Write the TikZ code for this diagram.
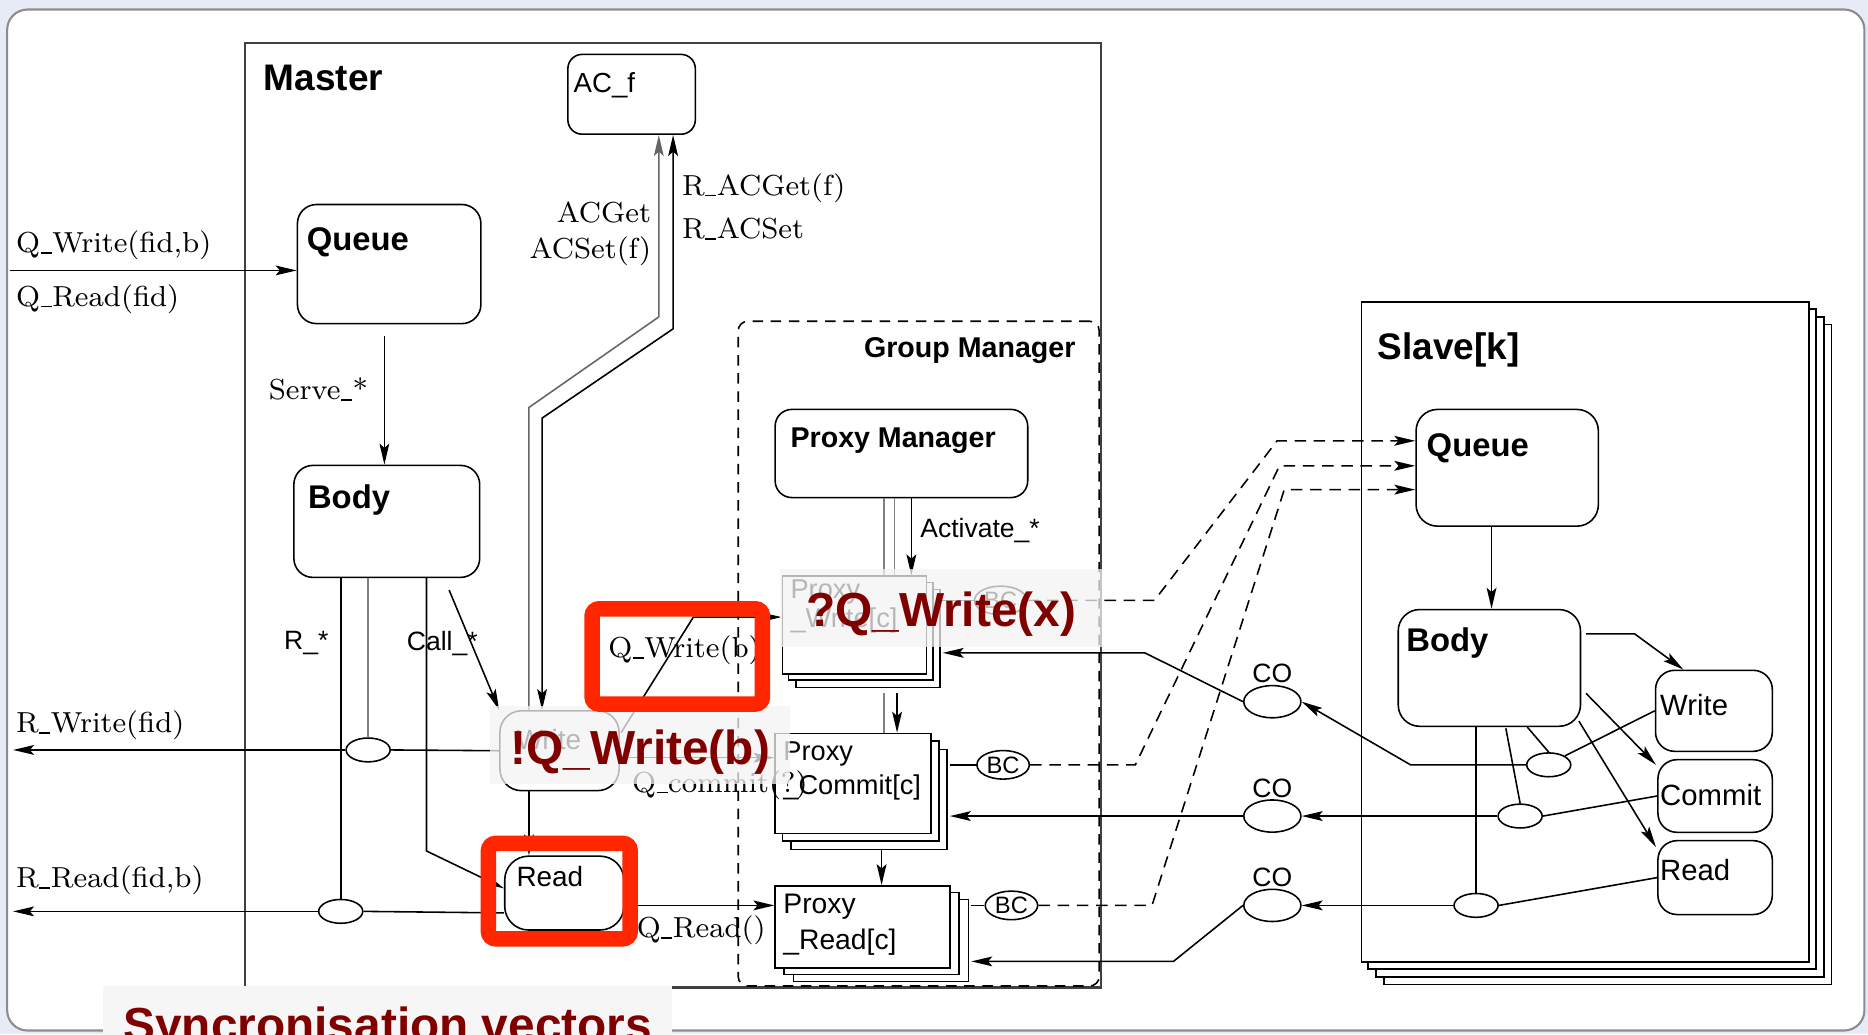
\documentclass[tikz,border=0pt]{standalone}
\usepackage{fontspec}
\newfontfamily\hv{Liberation Sans}
\usetikzlibrary{arrows.meta,calc,shapes.geometric}

\newlength{\pxu}
\setlength{\pxu}{0.12mm}
\newcommand{\usc}{\kern0.02em\rule[-0.03em]{0.38em}{0.05em}\kern0.02em}
\definecolor{pagebg}{RGB}{231,235,246}
\definecolor{hlred}{RGB}{255,38,0}
\definecolor{darkred}{RGB}{128,0,0}

\tikzset{
  >={Stealth[length=6pt,width=2.8pt,inset=1.2pt]},
  lin/.style={line width=0.45pt},
  arr/.style={lin,->},
  gline/.style={lin,draw=black!50},
  dline/.style={lin,dash pattern=on 3.3pt off 2.2pt},
  rbox/.style={draw,lin,fill=white,rounded corners=16\pxu,inner sep=0pt,anchor=north west},
  sqbox/.style={draw,lin,fill=white,inner sep=0pt,anchor=north west},
  tagb/.style={anchor=base west,inner sep=0pt},
  ttl/.style={tagb,font=\hv\bfseries\fontsize{10.6}{12}\selectfont},
  ttlb/.style={tagb,font=\hv\bfseries\fontsize{8.2}{10}\selectfont},
  nm/.style={tagb,font=\hv\bfseries\fontsize{9.4}{11}\selectfont},
  nmr/.style={tagb,font=\hv\fontsize{8.4}{10}\selectfont},
  pxl/.style={tagb,font=\hv\fontsize{7.8}{9}\selectfont},
  serif/.style={inner sep=0pt,font=\fontsize{8.3}{10}\selectfont},
  sans/.style={inner sep=0pt,font=\hv\fontsize{7.6}{9}\selectfont},
  sync/.style={ellipse,draw,lin,fill=white,inner sep=0pt,minimum width=37\pxu,minimum height=20\pxu},
  bcell/.style={ellipse,draw,lin,fill=white,inner sep=0pt,minimum width=44\pxu,minimum height=24\pxu,
    font=\hv\fontsize{6.8}{8}\selectfont},
  conode/.style={ellipse,draw,lin,fill=white,inner sep=0pt,minimum width=48\pxu,minimum height=27\pxu},
  ovl/.style={anchor=base west,fill=gray!9,fill opacity=0.75,text opacity=1,text=darkred,inner ysep=0pt,
    font=\hv\bfseries\fontsize{13.7}{16}\selectfont},
  redbox/.style={draw=hlred,line width=13\pxu,rounded corners=6\pxu}
}

\begin{document}
\begin{tikzpicture}[x=\pxu,y=-\pxu]
  \useasboundingbox (0,0) rectangle (1568,868);
  \fill[pagebg] (0,0) rectangle (1568,868);
  \draw[draw=black!45,line width=0.6pt,fill=white,rounded corners=17\pxu] (6,8) rectangle (1565,865);

  % master side
  \node[sqbox,draw=black!75,line width=0.6pt,minimum width=718\pxu,minimum height=793\pxu,
    label={[ttl,xshift=16\pxu,yshift=-41\pxu]north west:Master}] (master) at (205,35) {};
  \node[sqbox,fill=none,dash pattern=on 3pt off 2.2pt,rounded corners=8\pxu,minimum width=303\pxu,minimum height=558\pxu,
    label={[ttlb,anchor=base east,xshift=-20\pxu,yshift=-31\pxu]north east:Group Manager}] (gm) at (619,269) {};

  \node[rbox,rounded corners=12\pxu,minimum width=107\pxu,minimum height=67\pxu,
    label={[nmr,font=\hv\fontsize{7.9}{9}\selectfont,xshift=5\pxu,yshift=-33\pxu]north west:AC\_f}] (acf) at (476,45) {};
  \node[rbox,minimum width=154\pxu,minimum height=100\pxu,
    label={[nm,xshift=8\pxu,yshift=-39\pxu]north west:Queue}] (mqueue) at (249,171) {};
  \node[rbox,minimum width=156\pxu,minimum height=94\pxu,
    label={[nm,xshift=12\pxu,yshift=-37\pxu]north west:Body}] (mbody) at (246,390) {};
  \node[rbox,rounded corners=18\pxu,minimum width=100\pxu,minimum height=67\pxu,
    label={[nmr,font=\hv\fontsize{8}{9}\selectfont,xshift=14\pxu,yshift=-33\pxu]north west:Write}] (mwrite) at (419,596) {};
  \node[rbox,rounded corners=20\pxu,minimum width=100\pxu,minimum height=62\pxu,
    label={[nmr,font=\hv\fontsize{8}{9}\selectfont,xshift=10\pxu,yshift=-26\pxu]north west:Read}] (mread) at (423,718) {};
  \node[sync] (rw) at (309,629.5) {};
  \node[sync] (rr) at (286,765) {};

  % group manager
  \node[rbox,rounded corners=14\pxu,minimum width=212\pxu,minimum height=74\pxu,
    label={[ttlb,xshift=13\pxu,yshift=-33\pxu]north west:Proxy Manager}] (pman) at (650,343) {};
  \foreach \d in {2,1}
    \draw[lin,fill=white] (656+6*\d,483+6*\d) rectangle ++(121,82);
  \node[sqbox,minimum width=121\pxu,minimum height=82\pxu,
    label={[pxl,xshift=7\pxu,yshift=-19\pxu]north west:Proxy},
    label={[pxl,xshift=7\pxu,yshift=-44\pxu]north west:{\_Write[c]}}] (pwrite) at (656,483) {};
  \foreach \d in {2,1}
    \draw[lin,fill=white] (650+7*\d,615+7*\d) rectangle ++(131,84);
  \node[sqbox,minimum width=131\pxu,minimum height=84\pxu,
    label={[pxl,xshift=7\pxu,yshift=-23\pxu]north west:Proxy},
    label={[pxl,xshift=7\pxu,yshift=-52\pxu]north west:{\_Commit[c]}}] (pcommit) at (650,615) {};
  \foreach \d in {2,1}
    \draw[lin,fill=white] (650+8*\d,743+6*\d) rectangle ++(147,69);
  \node[sqbox,minimum width=147\pxu,minimum height=69\pxu,
    label={[pxl,font=\hv\fontsize{8.1}{9}\selectfont,xshift=7\pxu,yshift=-24\pxu]north west:Proxy},
    label={[pxl,font=\hv\fontsize{8.1}{9}\selectfont,xshift=7\pxu,yshift=-54\pxu]north west:{\_Read[c]}}] (pread) at (650,743) {};
  \node[bcell] (bc1) at (840,504) {BC};
  \node[bcell] (bc2) at (842,642) {BC};
  \node[bcell] (bc3) at (849,760) {BC};

  % slave
  \foreach \d in {3,2,1}
    \draw[lin,fill=white] (1142+6.5*\d,253+6.5*\d) rectangle ++(376,554);
  \node[sqbox,minimum width=376\pxu,minimum height=554\pxu,
    label={[ttl,xshift=14\pxu,yshift=-49\pxu]north west:{Slave[k]}}] (slave) at (1142,253) {};
  \node[rbox,rounded corners=18\pxu,minimum width=153\pxu,minimum height=98\pxu,
    label={[nm,xshift=9\pxu,yshift=-40\pxu]north west:Queue}] (squeue) at (1188,343) {};
  \node[rbox,rounded corners=18\pxu,minimum width=153\pxu,minimum height=98\pxu,
    label={[nm,xshift=7\pxu,yshift=-36\pxu]north west:Body}] (sbody) at (1173,511) {};
  \node[rbox,minimum width=98\pxu,minimum height=68\pxu,
    label={[nmr,xshift=4\pxu,yshift=-39\pxu]north west:Write}] (swrite) at (1389,562) {};
  \node[rbox,minimum width=96\pxu,minimum height=61\pxu,
    label={[nmr,xshift=2\pxu,yshift=-39\pxu]north west:Commit}] (scommit) at (1391,637) {};
  \node[rbox,minimum width=96\pxu,minimum height=62\pxu,
    label={[nmr,xshift=2\pxu,yshift=-34\pxu]north west:Read}] (sread) at (1391,705) {};
  \node[sync] (e1) at (1300,642) {};
  \node[sync] (e2) at (1276,685) {};
  \node[sync] (e3) at (1239,760) {};

  % CO nodes
  \node[conode] (co1) at (1068,589) {};
  \node[conode] (co2) at (1068,685) {};
  \node[conode] (co3) at (1068,760) {};
  \foreach \c in {co1,co2,co3}
    \node[sans,anchor=south,yshift=1\pxu] (l\c) at (\c.north) {CO};

  % master connectors
  \coordinate (qin) at (8,227);
  \draw[arr] (qin) -- (qin -| mqueue.west);
  \draw[arr] ($(mqueue.south)+(-4,10)$) coordinate (sv) -- (sv |- mbody.north);
  \draw[arr,draw=black!60] ($(mwrite.north west)+(25,0)$) -- (444,342) -- (553,266) -- ($(acf.south west)+(77,0)$);
  \draw[lin,<->] ($(mwrite.north west)+(36,0)$) -- (455,351) -- (565,276) -- ($(acf.south west)+(89,0)$);
  \draw[arr] ($(mbody.south west)+(131,10)$) -- (mwrite.north west);
  \draw[lin] (rr.north |- mbody.south) -- (rr.north);
  \draw[gline] (rw.north |- mbody.south) -- (rw.north);
  \draw[arr] ($(mbody.south west)+(112,0)$) -- ++(0,229) -- ($(mread.west)+(0,-4)$);
  \coordinate (rwout) at (11,629.5);
  \coordinate (rrout) at (11,765);
  \draw[lin] (mwrite.west) -- (rw.east);
  \draw[arr] (rw.west) -- (rwout);
  \draw[lin] ($(mread.south west)+(0,-15)$) -- (rr.east);
  \draw[arr] (rr.west) -- (rrout);
  \draw[arr] ($(mwrite.south west)+(25,0)$) -- ($(mread.north west)+(21,0)$);
  \draw[arr] ($(mwrite.north east)+(1,19)$) -- (582,518) -- ($(pwrite.north west)+(0,35)$);
  \draw[arr] ($(mwrite.north east)+(0,40)$) coordinate (qc) -- (qc -| pcommit.west);
  \draw[arr] ($(mread.north east)+(0,42)$) coordinate (qr) -- (qr -| pread.west);

  % group manager connectors
  \draw[gline] ($(pman.south west)+(92,0)$) coordinate (pa) -- (pa |- pwrite.north);
  \draw[gline] ($(pman.south west)+(101,0)$) coordinate (pb) -- (pb |- pwrite.north);
  \draw[arr] ($(pman.south west)+(115,0)$) coordinate (pc) -- (pc |- pwrite.north);
  \draw[gline] ($(pwrite.south west)+(86,15)$) coordinate (pd) -- (pd |- pcommit.north);
  \draw[arr] ($(pwrite.south west)+(97,15)$) coordinate (pe) -- (pe |- pcommit.north);
  \draw[arr] ($(pcommit.south west)+(90,13)$) coordinate (pf) -- (pf |- pread.north);
  \draw[lin] ($(pwrite.north east)+(12,21)$) -- (bc1.west);
  \draw[lin] ($(pcommit.north east)+(15,27)$) -- (bc2.west);
  \draw[lin] ($(pread.north east)+(17,17)$) -- (bc3.west);

  % broadcast to slaves
  \draw[dline,->] (bc1.east) -- (969,504) -- (1072,370) -- ($(squeue.north west)+(0,27)$);
  \draw[dline,->] (bc2.east) -- (953,642) -- (1074,391) -- ($(squeue.north west)+(0,48)$);
  \draw[dline,->] (bc3.east) -- (967,760) -- (1078,411) -- ($(squeue.north west)+(0,68)$);

  % collect from slaves
  \draw[arr] (co1.west) -- (961,548) -- ($(pwrite.north east)+(13,65)$);
  \draw[arr] (co2.west) -- ($(pcommit.north east)+(15,70)$);
  \draw[arr] (co3.west) -- (985,807) -- ($(pread.north east)+(17,64)$);
  \draw[arr] (e1.west) -- (1184,642) -- (co1.east);
  \draw[arr] (e2.west) -- (co2.east);
  \draw[arr] (e3.west) -- (co3.east);

  % slave connectors
  \draw[arr] ($(squeue.south west)+(64,0)$) coordinate (sq) -- (sq |- sbody.north);
  \draw[arr] ($(sbody.north east)+(4,21)$) -- (1372,532) -- ($(swrite.north west)+(24,0)$);
  \draw[arr] ($(sbody.north east)+(4,71)$) -- ($(scommit.north west)+(-1,5)$);
  \draw[arr] ($(sbody.south east)+(-2,-5)$) -- ($(sread.north west)+(-1,6)$);
  \draw[lin] (e3.north |- sbody.south) -- (e3.north);
  \draw[lin] ($(sbody.south west)+(91,1)$) -- (e2.north);
  \draw[lin] ($(sbody.south west)+(109,0)$) -- (e1.north);
  \draw[lin] (swrite.west) -- (e1.north east);
  \draw[lin] (scommit.west) -- (e2.east);
  \draw[lin] (sread.west) -- (e3.east);

  % connector labels
  \node[serif,anchor=west] (lqw) at (13,206) {Q\usc Write(fid,b)};
  \node[serif,anchor=west] (lqr) at (13,251) {Q\usc Read(fid)};
  \node[serif,anchor=west] (lserve) at (225,327) {Serve\usc*};
  \node[serif,anchor=east] (lacg) at (547,178) {ACGet};
  \node[serif,anchor=east] (lacs) at (547,211) {ACSet(f)};
  \node[serif,anchor=west] (lracg) at (572,158) {R\usc ACGet(f)};
  \node[serif,anchor=west] (lracs) at (572,192) {R\usc ACSet};
  \node[serif,anchor=west] (lrw) at (13,609) {R\usc Write(fid)};
  \node[serif,anchor=west] (lrr) at (13,739) {R\usc Read(fid,b)};
  \node[sans,anchor=west] (lrs) at (238,540) {R\_*};
  \node[sans,anchor=west] (lcall) at (341,540) {Call\_*};
  \node[serif,anchor=west] (lqwb) at (510,546) {Q\usc Write(b)};
  \node[serif,anchor=west] (lqc) at (530,659) {Q\usc commit(?)};
  \node[serif,anchor=west] (lqrd) at (534,781) {Q\usc Read()};
  \node[sans,anchor=west] (lact) at (772,445) {Activate\_*};

  % annotations
  \node[ovl,inner xsep=17\pxu,text height=49\pxu,text depth=16\pxu] (ovb) at (411,642) {!Q\_Write(b)};
  \node[ovl,inner xsep=22\pxu,text height=48\pxu,text depth=17\pxu] (ovx) at (654,526) {?Q\_Write(x)};
  \node[ovl,fill=gray!7,fill opacity=1,inner xsep=17\pxu,text height=46\pxu,text depth=20\pxu] (svec) at (86,874) {Syncronisation vectors};
  \draw[redbox] (497,511) rectangle (640,591);
  \draw[redbox] (410,708) rectangle (529,788);
\end{tikzpicture}
\end{document}
